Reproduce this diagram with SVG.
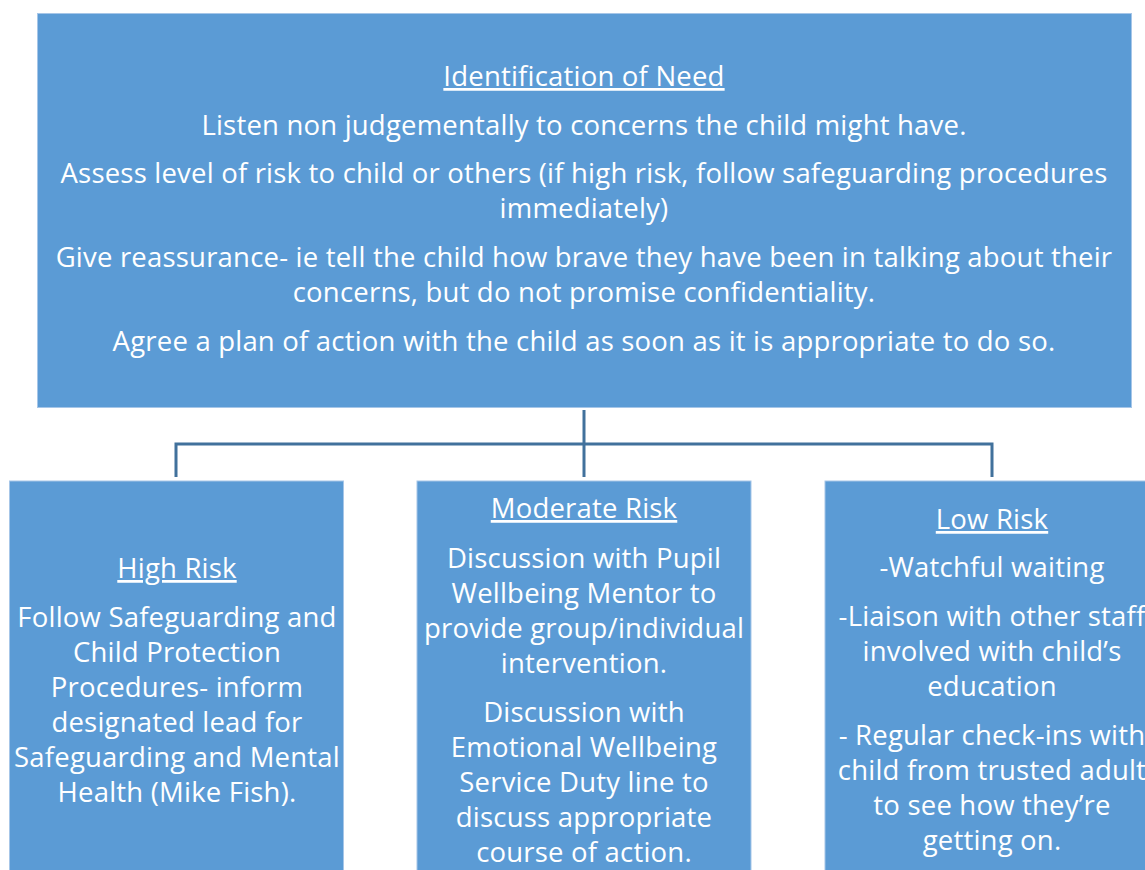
<svg xmlns="http://www.w3.org/2000/svg" width="1145" height="870" viewBox="0 0 1145 870">
  <style>
    .box { fill: #5B9BD5; stroke: #A6C6E8; stroke-width: 1; }
    .link { fill: none; stroke: #41719C; stroke-width: 3; }
    text { font-family: "Open Sans", "Liberation Sans", Arial, sans-serif; font-size: 27.5px; letter-spacing: 0.2px; fill: #FFFFFF; text-anchor: middle; }
    .head { text-decoration: underline; }
  </style>
  <rect width="1145" height="870" fill="#FFFFFF"/>

  <!-- connectors -->
  <g id="connectors">
    <path class="link" d="M584 410 V477"/>
    <path class="link" d="M176 477 V444 H992 V477"/>
  </g>

  <!-- identification of need -->
  <g id="node-identification">
    <rect class="box" x="37.5" y="13.5" width="1094" height="394"/>
    <text x="584" y="86" class="head">Identification of Need</text>
    <text x="584" y="135">Listen non judgementally to concerns the child might have.</text>
    <text x="584" y="183">Assess level of risk to child or others (if high risk, follow safeguarding procedures</text>
    <text x="584" y="218">immediately)</text>
    <text x="584" y="267">Give reassurance- ie tell the child how brave they have been in talking about their</text>
    <text x="584" y="302">concerns, but do not promise confidentiality.</text>
    <text x="584" y="351">Agree a plan of action with the child as soon as it is appropriate to do so.</text>
  </g>

  <!-- high risk -->
  <g id="node-high">
    <rect class="box" x="9.5" y="481" width="334" height="400"/>
    <text x="177" y="578" class="head">High Risk</text>
    <text x="177" y="627">Follow Safeguarding and</text>
    <text x="177" y="662">Child Protection</text>
    <text x="177" y="697">Procedures- inform</text>
    <text x="177" y="732">designated lead for</text>
    <text x="177" y="767">Safeguarding and Mental</text>
    <text x="177" y="802">Health (Mike Fish).</text>
  </g>

  <!-- moderate risk -->
  <g id="node-moderate">
    <rect class="box" x="417" y="481" width="334" height="400"/>
    <text x="584" y="518" class="head">Moderate Risk</text>
    <text x="584" y="568">Discussion with Pupil</text>
    <text x="584" y="603">Wellbeing Mentor to</text>
    <text x="584" y="638">provide group/individual</text>
    <text x="584" y="673">intervention.</text>
    <text x="584" y="722">Discussion with</text>
    <text x="584" y="757">Emotional Wellbeing</text>
    <text x="584" y="792">Service Duty line to</text>
    <text x="584" y="827">discuss appropriate</text>
    <text x="584" y="862">course of action.</text>
  </g>

  <!-- low risk -->
  <g id="node-low">
    <rect class="box" x="825" y="481" width="334" height="400"/>
    <text x="992" y="529" class="head">Low Risk</text>
    <text x="992" y="577">-Watchful waiting</text>
    <text x="992" y="626">-Liaison with other staff</text>
    <text x="992" y="661">involved with child’s</text>
    <text x="992" y="696">education</text>
    <text x="992" y="745">- Regular check-ins with</text>
    <text x="992" y="780">child from trusted adult</text>
    <text x="992" y="815">to see how they’re</text>
    <text x="992" y="850">getting on.</text>
  </g>
</svg>
